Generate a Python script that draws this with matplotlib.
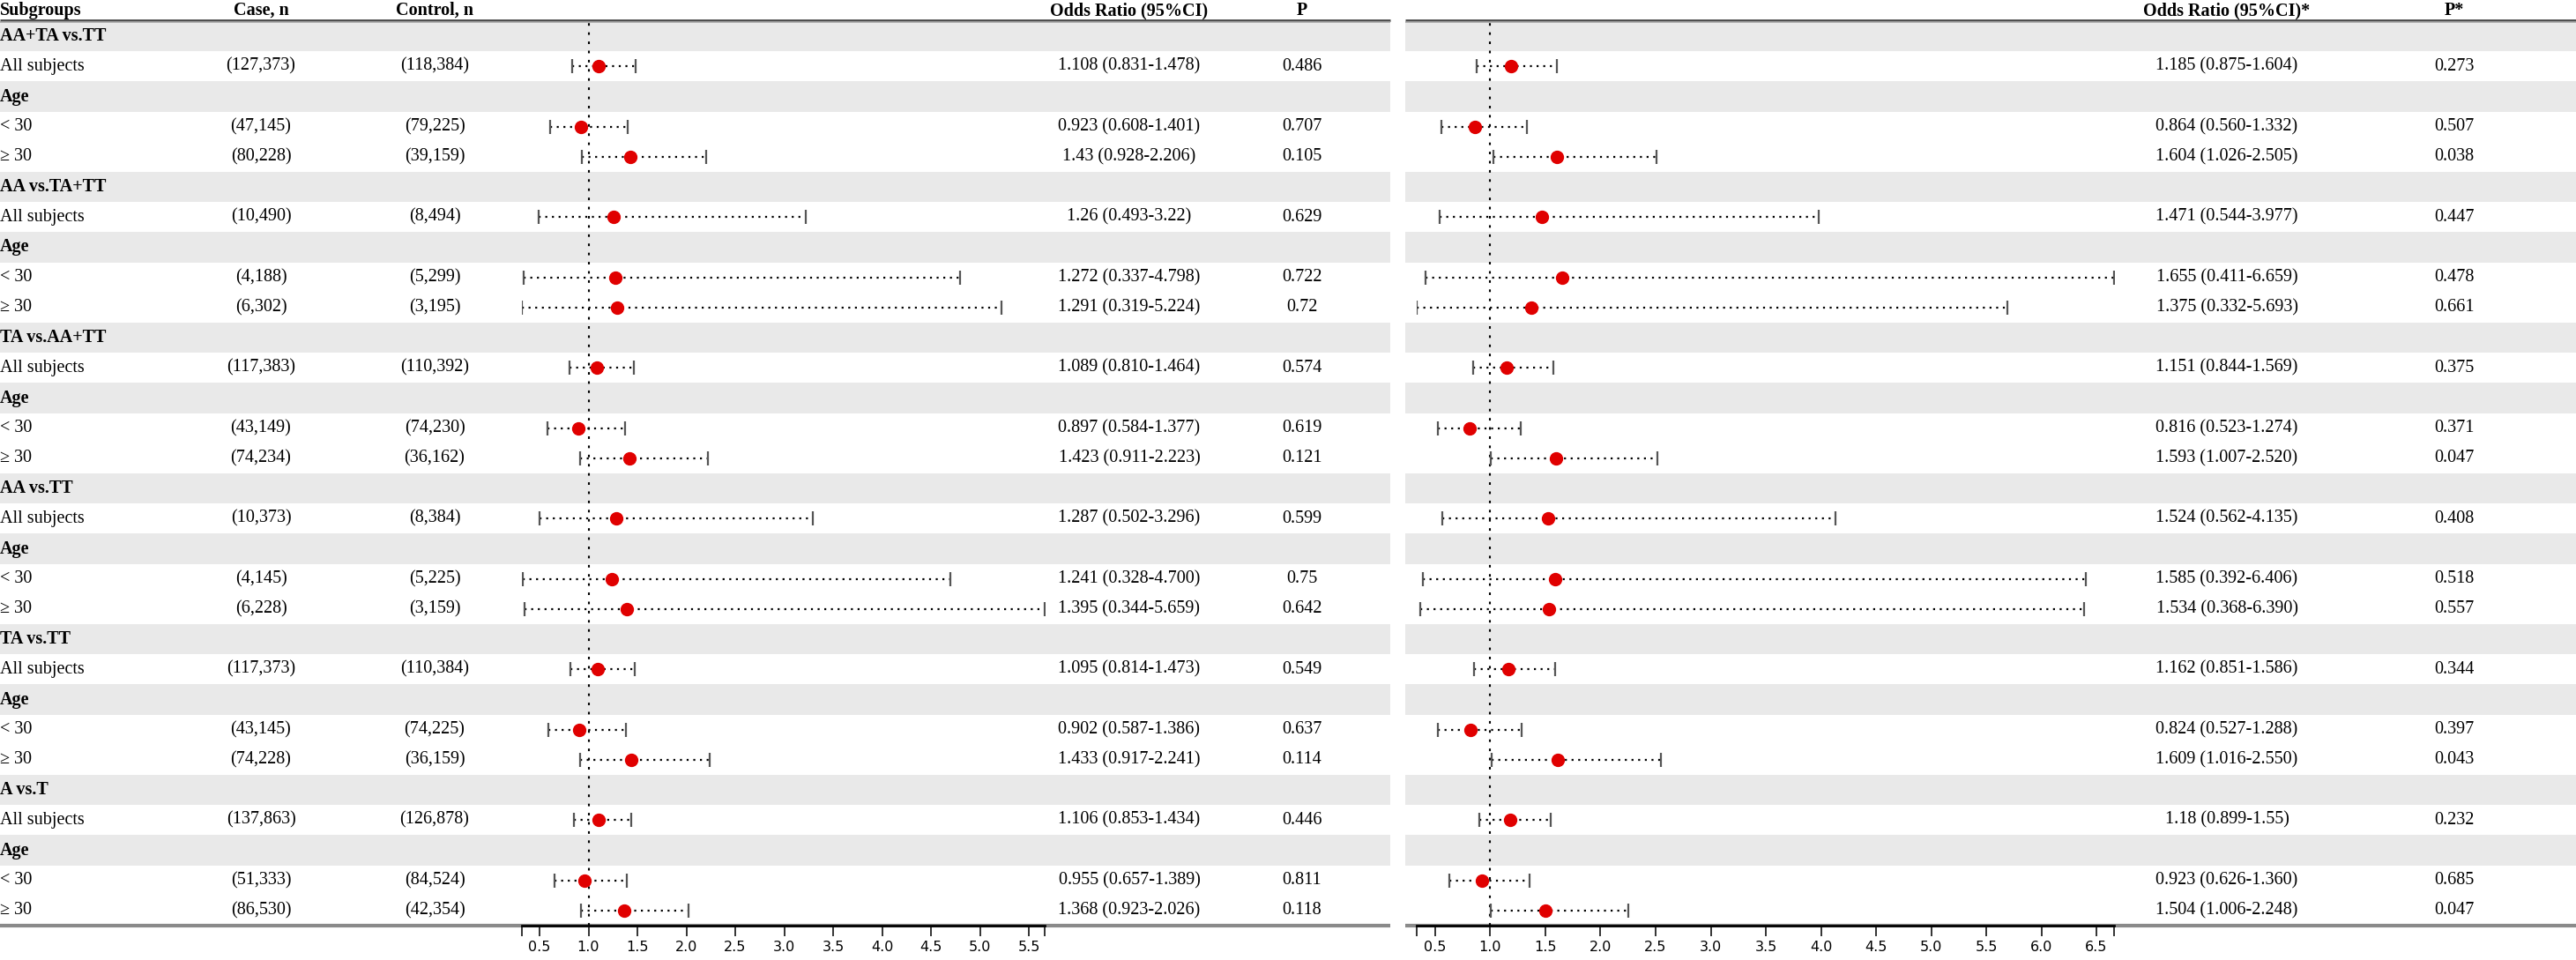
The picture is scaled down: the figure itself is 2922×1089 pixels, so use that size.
import matplotlib.pyplot as plt
import numpy as np

plt.rcParams['font.family'] = ['Liberation Serif', 'DejaVu Serif']

# ---- data ----
groups = ["AA+TA vs.TT", "AA vs.TA+TT", "TA vs.AA+TT", "AA vs.TT", "TA vs.TT", "A vs.T"]
sub_labels = ["All subjects", "< 30", "\u2265 30"]

case_n = ["(127,373)", "(47,145)", "(80,228)",
          "(10,490)", "(4,188)", "(6,302)",
          "(117,383)", "(43,149)", "(74,234)",
          "(10,373)", "(4,145)", "(6,228)",
          "(117,373)", "(43,145)", "(74,228)",
          "(137,863)", "(51,333)", "(86,530)"]
control_n = ["(118,384)", "(79,225)", "(39,159)",
             "(8,494)", "(5,299)", "(3,195)",
             "(110,392)", "(74,230)", "(36,162)",
             "(8,384)", "(5,225)", "(3,159)",
             "(110,384)", "(74,225)", "(36,159)",
             "(126,878)", "(84,524)", "(42,354)"]

or_left = ["1.108", "0.923", "1.43", "1.26", "1.272", "1.291",
           "1.089", "0.897", "1.423", "1.287", "1.241", "1.395",
           "1.095", "0.902", "1.433", "1.106", "0.955", "1.368"]
lo_left = ["0.831", "0.608", "0.928", "0.493", "0.337", "0.319",
           "0.810", "0.584", "0.911", "0.502", "0.328", "0.344",
           "0.814", "0.587", "0.917", "0.853", "0.657", "0.923"]
hi_left = ["1.478", "1.401", "2.206", "3.22", "4.798", "5.224",
           "1.464", "1.377", "2.223", "3.296", "4.700", "5.659",
           "1.473", "1.386", "2.241", "1.434", "1.389", "2.026"]
p_left = ["0.486", "0.707", "0.105", "0.629", "0.722", "0.72",
          "0.574", "0.619", "0.121", "0.599", "0.75", "0.642",
          "0.549", "0.637", "0.114", "0.446", "0.811", "0.118"]

or_right = ["1.185", "0.864", "1.604", "1.471", "1.655", "1.375",
            "1.151", "0.816", "1.593", "1.524", "1.585", "1.534",
            "1.162", "0.824", "1.609", "1.18", "0.923", "1.504"]
lo_right = ["0.875", "0.560", "1.026", "0.544", "0.411", "0.332",
            "0.844", "0.523", "1.007", "0.562", "0.392", "0.368",
            "0.851", "0.527", "1.016", "0.899", "0.626", "1.006"]
hi_right = ["1.604", "1.332", "2.505", "3.977", "6.659", "5.693",
            "1.569", "1.274", "2.520", "4.135", "6.406", "6.390",
            "1.586", "1.288", "2.550", "1.55", "1.360", "2.248"]
p_right = ["0.273", "0.507", "0.038", "0.447", "0.478", "0.661",
           "0.375", "0.371", "0.047", "0.408", "0.518", "0.557",
           "0.344", "0.397", "0.043", "0.232", "0.685", "0.047"]

# ---- layout (pixels) ----
W, H = 2922, 1089
TOP, ROW = 24, 34.2
N_ROWS = len(groups) * 5
LEFT_END, RIGHT_START = 1577, 1594
BAND = '#e9e9e9'
FS = 14.5

fig = plt.figure(figsize=(W / 100, H / 100), dpi=100)
base = fig.add_axes([0, 0, 1, 1])
base.set_xlim(0, W)
base.set_ylim(H, 0)
base.axis('off')


def row_y(i):
    return TOP + ROW * i + ROW / 2


# build row list: (label, kind, data index)
rows = []
k = 0
for g in groups:
    rows.append((g, 'head', None))
    rows.append((sub_labels[0], 'data', k))
    rows.append(("Age", 'head', None))
    rows.append((sub_labels[1], 'data', k + 1))
    rows.append((sub_labels[2], 'data', k + 2))
    k += 3

# shaded bands
for i, (lab, kind, idx) in enumerate(rows):
    if kind == 'head':
        y0 = TOP + ROW * i
        base.fill_between([0, LEFT_END], y0, y0 + ROW, color=BAND, lw=0)
        base.fill_between([RIGHT_START, W], y0, y0 + ROW, color=BAND, lw=0)

# header / bottom rules
bottom = TOP + ROW * N_ROWS
for xs in ([0, LEFT_END], [RIGHT_START, W]):
    base.plot(xs, [22.5, 22.5], color='#4a4a4a', lw=2.0, solid_capstyle='butt')
    base.plot(xs, [24.5, 24.5], color='#a8a8a8', lw=1.2, solid_capstyle='butt')
    base.plot(xs, [bottom, bottom], color='#8a8a8a', lw=3.0, solid_capstyle='butt')

# column headers
hy = 12
base.text(0, hy, "Subgroups", ha='left', va='center', fontsize=FS, fontweight='bold')
base.text(296, hy, "Case, n", ha='center', va='center', fontsize=FS, fontweight='bold')
base.text(493, hy, "Control, n", ha='center', va='center', fontsize=FS, fontweight='bold')
base.text(1281, hy, "Odds Ratio (95%CI)", ha='center', va='center', fontsize=FS, fontweight='bold')
base.text(1477, hy, "P", ha='center', va='center', fontsize=FS, fontweight='bold')
base.text(2526, hy, "Odds Ratio (95%CI)*", ha='center', va='center', fontsize=FS, fontweight='bold')
base.text(2784, hy, "P*", ha='center', va='center', fontsize=FS, fontweight='bold')

# table text
for i, (lab, kind, idx) in enumerate(rows):
    y = row_y(i)
    if kind == 'head':
        base.text(0, y, lab, ha='left', va='center', fontsize=FS, fontweight='bold')
        continue
    base.text(0, y, lab, ha='left', va='center', fontsize=FS)
    base.text(296, y, case_n[idx], ha='center', va='center', fontsize=FS)
    base.text(493, y, control_n[idx], ha='center', va='center', fontsize=FS)
    base.text(1281, y, f"{or_left[idx]} ({lo_left[idx]}-{hi_left[idx]})",
              ha='center', va='center', fontsize=FS)
    base.text(1477, y, p_left[idx], ha='center', va='center', fontsize=FS)
    base.text(2526, y, f"{or_right[idx]} ({lo_right[idx]}-{hi_right[idx]})",
              ha='center', va='center', fontsize=FS)
    base.text(2784, y, p_right[idx], ha='center', va='center', fontsize=FS)


def forest(x05, ppu, est, lo, hi):
    est = np.array(est, dtype=float)
    lo = np.array(lo, dtype=float)
    hi = np.array(hi, dtype=float)
    xmin, xmax = lo.min(), hi.max()
    x0 = x05 + (xmin - 0.5) * ppu
    x1 = x05 + (xmax - 0.5) * ppu
    y_bot = TOP + ROW * N_ROWS
    ax = fig.add_axes([x0 / W, (H - y_bot) / H, (x1 - x0) / W, (y_bot - TOP) / H])
    ax.set_facecolor('none')
    ax.set_xlim(xmin, xmax)
    ax.set_ylim(N_ROWS, 0)
    for s in ('top', 'left', 'right'):
        ax.spines[s].set_visible(False)
    ax.spines['bottom'].set_linewidth(2.0)
    ax.spines['bottom'].set_color('black')
    ax.set_yticks([])
    ticks = [xmin] + list(np.arange(0.5, xmax, 0.5)) + [xmax]
    labels = [''] + [f"{t:.1f}" for t in ticks[1:-1]] + ['']
    ax.set_xticks(ticks)
    ax.set_xticklabels(labels, fontsize=11.5, family='DejaVu Sans')
    ax.tick_params(axis='x', direction='out', length=8.5, width=1.4,
                   color='#333333', pad=4)

    ax.axvline(1.0, color='black', lw=1.5, dashes=(1.4, 3.6), zorder=1)

    ys = [i + 0.5 for i, r in enumerate(rows) if r[1] == 'data']
    for y, e, l, h in zip(ys, est, lo, hi):
        ax.plot([l, h], [y, y], color='black', lw=1.6, dashes=(1, 2.4),
                dash_capstyle='butt', zorder=2)
        ax.plot([l, h], [y, y], ls='none', marker='|', markersize=11,
                mew=1.6, color='#555555', zorder=3)
        ax.plot(e, y, marker='o', markersize=10, color='#e00000', mec='#e00000', zorder=4)
    return ax


forest(612, 111.0, or_left, lo_left, hi_left)
forest(1628, 125.0, or_right, lo_right, hi_right)

fig.savefig('out.png', dpi=100)
